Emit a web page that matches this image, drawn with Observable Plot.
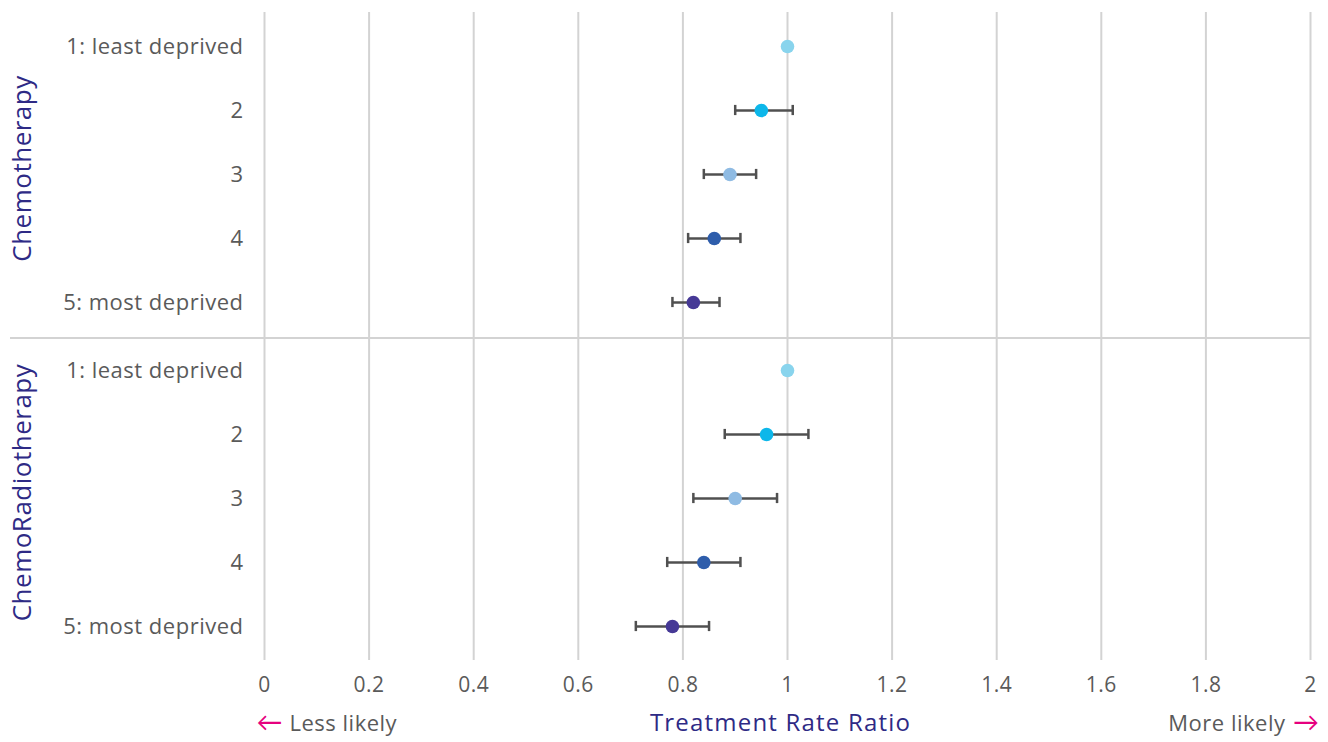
<!DOCTYPE html>
<html>
<head>
<meta charset="utf-8">
<script src="https://cdn.jsdelivr.net/npm/d3@7"></script>
<script src="https://cdn.jsdelivr.net/npm/@observablehq/plot@0.6"></script>
<style>
  html, body { margin: 0; padding: 0; background: #fff; }
  #chart { width: 1328px; height: 742px; }
  #chart svg { letter-spacing: 0.5px; }
  #chart svg g[font-size="24"] { letter-spacing: 1.2px; }
</style>
</head>
<body>
<div id="chart"></div>
<script>
const treatments = ["Chemotherapy", "ChemoRadiotherapy"];
const quintiles = ["1: least deprived", "2", "3", "4", "5: most deprived"];
const quintileColors = ["#89d4ed", "#0db7ea", "#8fbbe3", "#2e5dab", "#463996"];

const chemoRatio = [1.00, 0.95, 0.89, 0.86, 0.82];
const chemoLower = [null, 0.90, 0.84, 0.81, 0.78];
const chemoUpper = [null, 1.01, 0.94, 0.91, 0.87];

const crRatio = [1.00, 0.96, 0.90, 0.84, 0.78];
const crLower = [null, 0.88, 0.82, 0.77, 0.71];
const crUpper = [null, 1.04, 0.98, 0.91, 0.85];

const xTicks = [0, 0.2, 0.4, 0.6, 0.8, 1, 1.2, 1.4, 1.6, 1.8, 2];
const xLabel = "Treatment Rate Ratio";
const lessLabel = "Less likely";
const moreLabel = "More likely";

const rows = [];
quintiles.forEach((q, i) => {
  rows.push({treatment: treatments[0], quintile: q, ratio: chemoRatio[i], lo: chemoLower[i], hi: chemoUpper[i]});
});
quintiles.forEach((q, i) => {
  rows.push({treatment: treatments[1], quintile: q, ratio: crRatio[i], lo: crLower[i], hi: crUpper[i]});
});
const ciRows = rows.filter(d => d.lo != null);

const W = 1328, H = 742, mt = 12, mb = 82, ml = 264, mr = 18;
const facetH = (H - mt - mb) / treatments.length;
const bandH = facetH / quintiles.length;
const capH = 11;
const capInset = (bandH - capH) / 2;

const font = "'Open Sans', Lato, sans-serif";
const grey = "#5a5a5a";
const navy = "#2e2a85";
const pink = "#e6007e";

const chart = Plot.plot({
  width: W,
  height: H,
  marginTop: mt,
  marginBottom: mb,
  marginLeft: ml,
  marginRight: mr,
  style: {fontFamily: font, fontSize: "22px", color: grey, background: "#fff"},
  x: {domain: [0, 2], ticks: xTicks, tickFormat: d => String(+d.toFixed(1)), tickSize: 0, tickPadding: 17, label: null},
  y: {type: "band", domain: quintiles, padding: 0, tickSize: 0, tickPadding: 21, label: null},
  fy: {domain: treatments, padding: 0, axis: null, label: null},
  color: {domain: quintiles, range: quintileColors},
  marks: [
    Plot.gridX(xTicks, {stroke: "#d3d3d3", strokeOpacity: 1, strokeWidth: 2}),
    Plot.ruleY([{treatment: treatments[1], quintile: quintiles[0]}], {
      y: "quintile", fy: "treatment", dy: -bandH / 2,
      stroke: "#d3d3d3", strokeWidth: 2, insetLeft: -(ml - 10)
    }),
    Plot.ruleY(ciRows, {y: "quintile", fy: "treatment", x1: "lo", x2: "hi", stroke: "#505050", strokeWidth: 2.5}),
    Plot.tickX(ciRows, {x: "lo", y: "quintile", fy: "treatment", stroke: "#505050", strokeWidth: 2.5, insetTop: capInset, insetBottom: capInset}),
    Plot.tickX(ciRows, {x: "hi", y: "quintile", fy: "treatment", stroke: "#505050", strokeWidth: 2.5, insetTop: capInset, insetBottom: capInset}),
    Plot.dot(rows, {x: "ratio", y: "quintile", fy: "treatment", fill: "quintile", r: 6.8, stroke: null}),
    Plot.text(treatments, {
      fy: d => d, text: d => d, frameAnchor: "left", textAnchor: "middle", dx: -242, dy: -6, rotate: -90,
      fontSize: 26, fill: navy, fontFamily: font
    }),
    Plot.text([xLabel], {
      fy: () => treatments[1], text: d => d, frameAnchor: "bottom", dy: 70, dx: -7,
      fontSize: 24, fill: navy, fontFamily: font
    }),
    Plot.text(["←"], {
      fy: () => treatments[1], text: d => d, frameAnchor: "bottom-left", dy: 70, dx: -8,
      textAnchor: "start", fontSize: 26, fill: pink
    }),
    Plot.text([lessLabel], {
      fy: () => treatments[1], text: d => d, frameAnchor: "bottom-left", dy: 70, dx: 25,
      textAnchor: "start", fontSize: 22, fill: grey, fontFamily: font
    }),
    Plot.text([moreLabel], {
      fy: () => treatments[1], text: d => d, frameAnchor: "bottom-right", dy: 70, dx: -25,
      textAnchor: "end", fontSize: 22, fill: grey, fontFamily: font
    }),
    Plot.text(["→"], {
      fy: () => treatments[1], text: d => d, frameAnchor: "bottom-right", dy: 70, dx: 9,
      textAnchor: "end", fontSize: 26, fill: pink
    })
  ]
});
chart.querySelectorAll('g[aria-label="x-axis tick label"]').forEach(g => g.setAttribute("font-size", "21"));
document.getElementById("chart").appendChild(chart);
</script>
</body>
</html>
